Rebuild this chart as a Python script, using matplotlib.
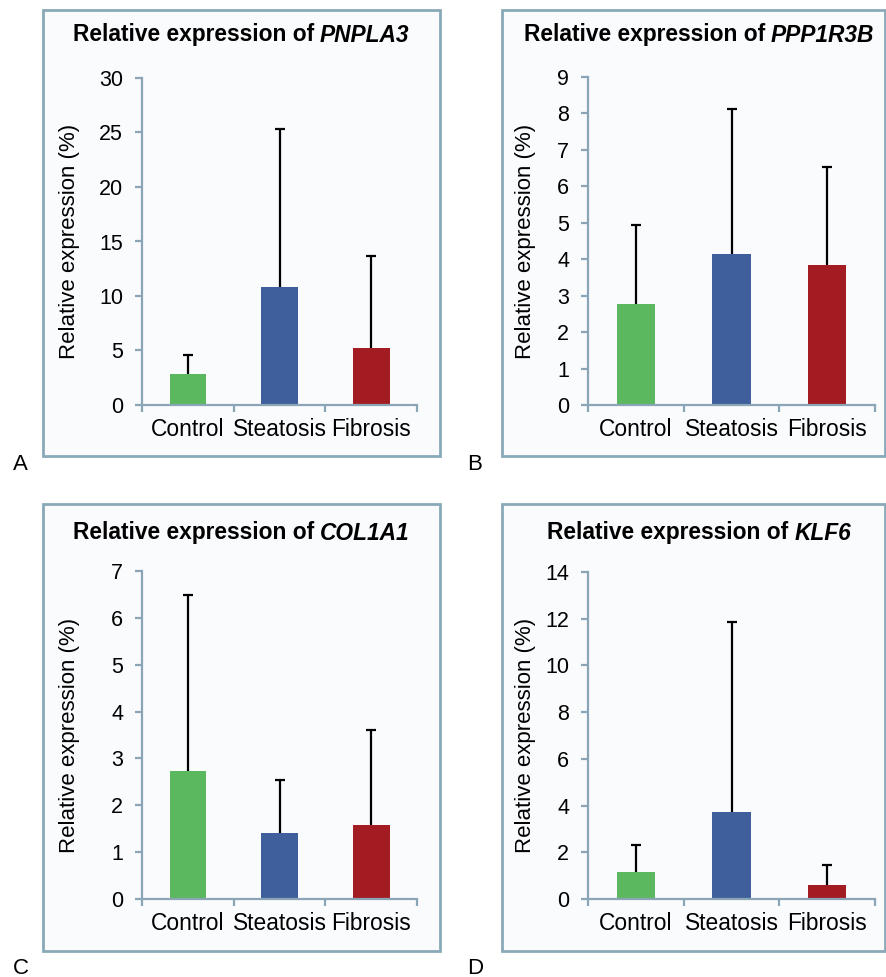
import matplotlib
matplotlib.use("Agg")
import matplotlib.pyplot as plt
from matplotlib.patches import Rectangle

plt.rcParams['font.family'] = ['Liberation Sans', 'DejaVu Sans']

categories = ["Control", "Steatosis", "Fibrosis"]
genes = ["PNPLA3", "PPP1R3B", "COL1A1", "KLF6"]
pnpla3_mean = [2.8, 10.8, 5.2]
pnpla3_sd = [1.8, 14.5, 8.5]
ppp1r3b_mean = [2.77, 4.13, 3.85]
ppp1r3b_sd = [2.18, 3.98, 2.68]
col1a1_mean = [2.74, 1.40, 1.58]
col1a1_sd = [3.75, 1.15, 2.03]
klf6_mean = [1.16, 3.73, 0.60]
klf6_sd = [1.14, 8.14, 0.87]
ymax = [30, 9, 7, 14]
ystep = [5, 1, 1, 2]
panel_letters = ["A", "B", "C", "D"]

bar_colors = ["#5bb85f", "#3e5f9b", "#a21c22"]
frame_color = "#8aa9b8"
axis_color = "#8aa5b5"

W, H = 886, 977
fig = plt.figure(figsize=(W / 100, H / 100), dpi=100)
fig.patch.set_facecolor("white")

def fx(x):
    return x / W

def fy(y):
    return 1 - y / H

panels = [
    dict(frame=(43, 10, 440, 456), ax=(142, 417, 78, 405), title=(241, 35), ylab=(69, 241), letter=(13, 465)),
    dict(frame=(502, 10, 885, 456), ax=(588, 875, 77, 405), title=(699, 35), ylab=(526, 241), letter=(467, 465)),
    dict(frame=(43, 504, 440, 951), ax=(142, 417, 571, 899), title=(241, 533), ylab=(69, 735), letter=(13, 968)),
    dict(frame=(502, 504, 885, 951), ax=(588, 875, 572, 899), title=(699, 533), ylab=(526, 735), letter=(467, 968)),
]
means = [pnpla3_mean, ppp1r3b_mean, col1a1_mean, klf6_mean]
sds = [pnpla3_sd, ppp1r3b_sd, col1a1_sd, klf6_sd]

fig.canvas.draw()
renderer = fig.canvas.get_renderer()

for i, p in enumerate(panels):
    l, t, r, b = p["frame"]
    fig.patches.append(Rectangle((fx(l), fy(b)), fx(r - l), (b - t) / H,
                                 transform=fig.transFigure, facecolor="#fafbfd",
                                 edgecolor=frame_color, linewidth=2.0, zorder=-5))
    al, ar, at, ab = p["ax"]
    ax = fig.add_axes([fx(al), fy(ab), fx(ar - al), (ab - at) / H])
    ax.set_zorder(2)
    ax.set_facecolor("none")
    xs = [1, 2, 3]
    ax.bar(xs, means[i], width=0.40, color=bar_colors, zorder=2)
    _, caps, _ = ax.errorbar(xs, means[i], yerr=[[0, 0, 0], sds[i]], fmt="none",
                             ecolor="black", elinewidth=1.6, capsize=3.5, capthick=1.6,
                             zorder=3)
    if len(caps) == 2:
        caps[0].set_visible(False)
    ax.set_xlim(0.5, 3.5)
    ax.set_ylim(0, ymax[i])
    ax.set_yticks(list(range(0, ymax[i] + 1, ystep[i])))
    ax.set_xticks([0.5, 1.5, 2.5, 3.5])
    ax.set_xticklabels([])
    ax.set_xticks(xs, minor=True)
    ax.set_xticklabels(categories, minor=True)
    ax.tick_params(axis="x", which="major", direction="out", length=5, width=1.6, color=axis_color)
    ax.tick_params(axis="x", which="minor", length=0, labelsize=16.4, pad=9.5)
    ax.tick_params(axis="y", direction="out", length=5, width=1.6, color=axis_color,
                   labelsize=15.5, pad=8.5)
    for s in ["top", "right"]:
        ax.spines[s].set_visible(False)
    for s in ["left", "bottom"]:
        ax.spines[s].set_color(axis_color)
        ax.spines[s].set_linewidth(1.6)

    cx, cy = p["title"]
    t1 = fig.text(0, fy(cy), "Relative expression of", fontsize=16.4, fontweight="bold",
                  ha="left", va="center", zorder=5)
    t2 = fig.text(0, fy(cy), genes[i], fontsize=16.4, fontweight="bold", fontstyle="italic",
                  ha="left", va="center", zorder=5)
    w1 = t1.get_window_extent(renderer).width
    w2 = t2.get_window_extent(renderer).width
    gap = 6
    total = w1 + gap + w2
    x0 = cx - total / 2
    t1.set_x(fx(x0))
    t2.set_x(fx(x0 + w1 + gap))

    yx, yy = p["ylab"]
    fig.text(fx(yx), fy(yy), "Relative expression (%)", fontsize=16, rotation=90,
             ha="center", va="center", zorder=5)
    lx, ly = p["letter"]
    fig.text(fx(lx), fy(ly), panel_letters[i], fontsize=16, ha="left", va="center", zorder=5)

fig.savefig("out.png", dpi=100)
